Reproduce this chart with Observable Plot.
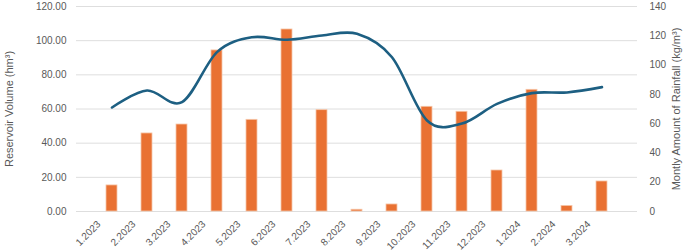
<!DOCTYPE html>
<html>
<head>
<meta charset="utf-8">
<script src="https://cdn.jsdelivr.net/npm/d3@7"></script>
<script src="https://cdn.jsdelivr.net/npm/@observablehq/plot@0.6"></script>
<style>
  html, body { margin: 0; padding: 0; background: #fff; }
  #chart svg { display: block; font-family: "Liberation Sans", Arial, sans-serif; }
</style>
</head>
<body>
<div id="chart"></div>
<script>
const months = ["1.2023","2.2023","3.2023","4.2023","5.2023","6.2023","7.2023","8.2023","9.2023","10.2023","11.2023","12.2023","1.2024","2.2024","3.2024"];
const rainfall = [17.8, 53.3, 59.4, 110, 62.6, 124.3, 69.2, 1.2, 4.8, 71.5, 68.1, 28, 83.1, 3.8, 20.5];
const volume = [60.9, 70.8, 64, 93.3, 102, 100.5, 103, 104, 90.3, 53.3, 51.5, 63, 69.3, 69.7, 72.8];
const leftTicks = [0, 20, 40, 60, 80, 100, 120];
const rightTicks = [0, 20, 40, 60, 80, 100, 120, 140];
const leftTitle = "Reservoir Volume (hm³)";
const rightTitle = "Montly Amount of Rainfall (kg/m³)";

const k = 120 / 140; // rainfall -> left-axis units
const data = months.map((m, i) => ({month: m, rain: rainfall[i], rainY: rainfall[i] * k, vol: volume[i]}));

const gray = "#595959";
const chart = Plot.plot({
  width: 685,
  height: 252,
  marginLeft: 76,
  marginRight: 48,
  marginTop: 6,
  marginBottom: 41,
  style: {fontSize: "10px", color: gray, fontFamily: "Liberation Sans, Arial, sans-serif"},
  x: {domain: months, padding: 0.69, align: 0.5},
  y: {domain: [0, 120]},
  marks: [
    Plot.gridY(leftTicks, {stroke: "#dedede", strokeOpacity: 1, strokeWidth: 1}),
    Plot.barY(data, {x: "month", y: "rainY", fill: "#E97132", stroke: "#f6c6a8", strokeWidth: 0.8}),
    Plot.line(data, {x: "month", y: "vol", stroke: "#1D5F82", strokeWidth: 2.6, curve: "cardinal"}),
    Plot.axisY(leftTicks, {anchor: "left", tickSize: 0, tickPadding: 10, tickFormat: d => d.toFixed(2), fill: gray, label: null, fontSize: 10}),
    Plot.axisY(rightTicks.map(d => d * k), {anchor: "right", tickSize: 0, tickPadding: 12, tickFormat: d => String(Math.round(d / k)), fill: gray, label: null, fontSize: 10}),
    Plot.axisX({tickSize: 0, tickPadding: 6, tickRotate: -45, dx: -13, dy: 5, fill: gray, label: null, fontSize: 10}),
    Plot.text([leftTitle], {frameAnchor: "left", textAnchor: "middle", dx: -67, rotate: -90, fill: gray, fontSize: 11}),
    Plot.text([rightTitle], {frameAnchor: "right", textAnchor: "middle", dx: 39, rotate: -90, fill: gray, fontSize: 11})
  ]
});
document.getElementById("chart").appendChild(chart);
</script>
</body>
</html>
